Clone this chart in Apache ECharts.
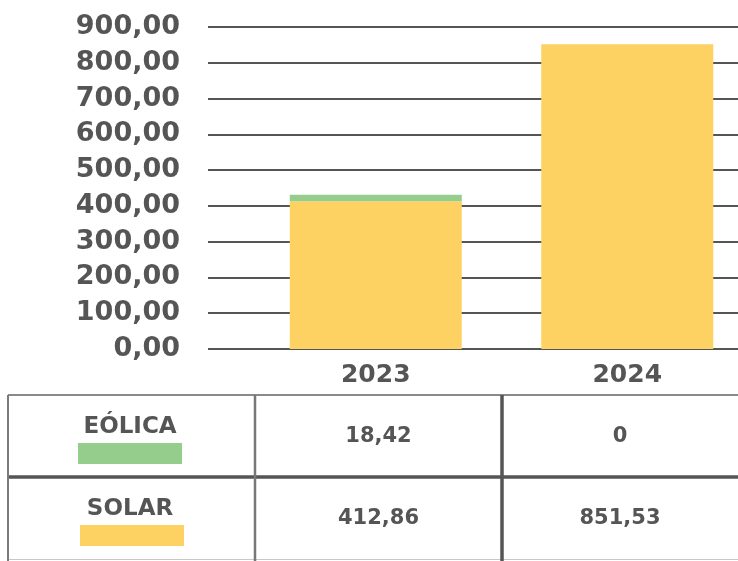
<!DOCTYPE html>
<html lang="es">
<head>
	<meta charset="UTF-8">
	<title>Eólica y Solar</title>
	<script src="https://cdn.jsdelivr.net/npm/echarts@6/dist/echarts.min.js"></script>
	<style>
		html,body{margin:0;padding:0;background:#fff;}
	</style>
</head>
<body>
	<div id="app" style="width:738px;height:561px"></div>

	<script>
		// datos
		var years = ["2023", "2024"];
		var seriesNames = ["EÓLICA", "SOLAR"];
		var eolica = [18.42, 0];
		var solar = [412.86, 851.53];
		var yMax = 900, yStep = 100;

		var colors = { "EÓLICA": "#95cd8d", "SOLAR": "#fdd262" };
		var textColor = "#555555";
		var font = "DejaVu Sans";

		function fmt(v) {
			// formato español: coma decimal
			if (v === 0) return "0";
			return v.toFixed(2).replace(".", ",");
		}

		var myChart = echarts.init(document.getElementById('app'));

		// tabla bajo el gráfico (graphic)
		var tableTop = 395, rowH = 82, colX = [8, 255, 502, 738];
		var rows = [eolica, solar];
		var graphic = [];
		// líneas
		graphic.push({ type: 'line', shape: { x1: colX[0], y1: tableTop, x2: 738, y2: tableTop }, style: { stroke: '#8a8a8a', lineWidth: 2 } });
		graphic.push({ type: 'line', shape: { x1: colX[0], y1: tableTop + rowH, x2: 738, y2: tableTop + rowH }, style: { stroke: '#555', lineWidth: 3.5 } });
		graphic.push({ type: 'line', shape: { x1: colX[0], y1: 559.5, x2: 738, y2: 559.5 }, style: { stroke: '#c8c8c8', lineWidth: 1 } });
		graphic.push({ type: 'line', shape: { x1: colX[0], y1: tableTop, x2: colX[0], y2: 561 }, style: { stroke: '#7a7a7a', lineWidth: 2 } });
		graphic.push({ type: 'line', shape: { x1: colX[1], y1: tableTop, x2: colX[1], y2: 561 }, style: { stroke: '#777', lineWidth: 2.5 } });
		graphic.push({ type: 'line', shape: { x1: colX[2], y1: tableTop, x2: colX[2], y2: 561 }, style: { stroke: '#555', lineWidth: 3.5 } });

		seriesNames.forEach(function (name, r) {
			var y0 = tableTop + r * rowH;
			graphic.push({
				type: 'text', x: 130, y: y0 + 32,
				style: { text: name, fill: textColor, font: 'bold 23px "' + font + '"', textAlign: 'center', textVerticalAlign: 'middle' }
			});
			graphic.push({
				type: 'rect', shape: { x: 78 + r * 2, y: y0 + 48, width: 104, height: 21 },
				style: { fill: colors[name] }
			});
			years.forEach(function (yr, c) {
				graphic.push({
					type: 'text', x: (colX[c + 1] + colX[c + 2]) / 2, y: y0 + 42,
					style: { text: fmt(rows[r][c]), fill: textColor, font: 'bold 21px "' + font + '"', textAlign: 'center', textVerticalAlign: 'middle' }
				});
			});
		});

		var option = {
			animation: false,
			grid: [
				{ left: 208, right: 0, top: 27, bottom: 212, outerBoundsMode: 'none' },   // líneas de la cuadrícula + etiquetas
				{ left: 250, width: 503, top: 27, bottom: 212, outerBoundsMode: 'none' }  // barras
			],
			xAxis: [
				{ type: 'category', gridIndex: 0, data: [''], show: false },
				{
					type: 'category', gridIndex: 1, data: years,
					axisLine: { show: false }, axisTick: { show: false },
					axisLabel: { color: textColor, fontFamily: font, fontWeight: 'bold', fontSize: 25, margin: 14 }
				}
			],
			yAxis: [
				{
					type: 'value', gridIndex: 0, min: 0, max: yMax, interval: yStep,
					axisLine: { show: false }, axisTick: { show: false },
					splitLine: { lineStyle: { color: '#555', width: 2 } },
					axisLabel: {
						color: textColor, fontFamily: font, fontWeight: 'bold', fontSize: 27, margin: 28,
						formatter: function (v) { return v.toFixed(2).replace(".", ","); }
					}
				},
				{
					type: 'value', gridIndex: 1, min: 0, max: yMax, interval: yStep,
					axisLine: { show: false }, axisTick: { show: false },
					splitLine: { show: false }, axisLabel: { show: false }
				}
			],
			series: [
				{
					name: "SOLAR", type: 'bar', stack: 'total', xAxisIndex: 1, yAxisIndex: 1,
					data: solar, barWidth: 172, itemStyle: { color: colors["SOLAR"] }
				},
				{
					name: "EÓLICA", type: 'bar', stack: 'total', xAxisIndex: 1, yAxisIndex: 1,
					data: eolica, barWidth: 172, itemStyle: { color: colors["EÓLICA"] }
				}
			],
			graphic: graphic
		};
		myChart.setOption(option);
	</script>
</body>
</html>
